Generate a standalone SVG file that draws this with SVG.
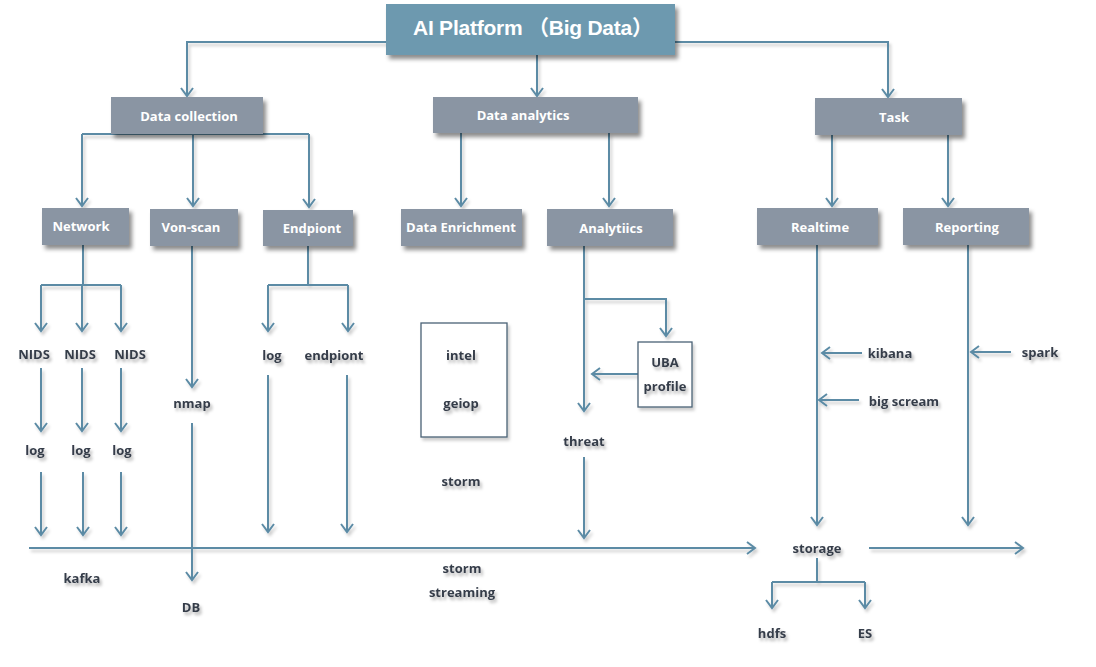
<svg xmlns="http://www.w3.org/2000/svg" width="1096" height="667" viewBox="0 0 1096 667">
<style>
.c{fill:none;stroke:#5B8BA5;stroke-width:2}
.a{marker-end:url(#ah)}
.bx{fill:#8A95A3}
.lb{font-family:"Open Sans","Noto Sans",sans-serif;font-weight:bold;font-size:13px;fill:#363D4A;text-anchor:middle}
.wl{font-family:"Open Sans","Noto Sans",sans-serif;font-weight:bold;font-size:13px;fill:#ffffff;text-anchor:middle}
.fr{fill:#ffffff;stroke:#4A6276;stroke-width:1.3}
</style>
<defs>
<marker id="ah" viewBox="-10 -8 12 16" refX="0" refY="0" markerWidth="12" markerHeight="16" markerUnits="userSpaceOnUse" orient="auto" overflow="visible">
<path d="M-8,-6 L0,0 L-8,6" fill="none" stroke="#5B8BA5" stroke-width="2"/>
</marker>
<filter id="bsh" filterUnits="userSpaceOnUse" x="0" y="0" width="1096" height="667">
<feDropShadow dx="3" dy="4" stdDeviation="2" flood-color="#000" flood-opacity="0.45"/>
</filter>
<filter id="lsh" filterUnits="userSpaceOnUse" x="0" y="0" width="1096" height="667">
<feDropShadow dx="2" dy="3" stdDeviation="1.5" flood-color="#000" flood-opacity="0.2"/>
</filter>
<filter id="tsh" filterUnits="userSpaceOnUse" x="0" y="0" width="1096" height="667">
<feDropShadow dx="2" dy="3" stdDeviation="1.5" flood-color="#000" flood-opacity="0.3"/>
</filter>
</defs>
<rect width="1096" height="667" fill="#ffffff"/>
<g id="connectors" filter="url(#lsh)">
<path class="c a" d="M386,42 H187 V96"/>
<path class="c a" d="M675,42 H888 V97"/>
<path class="c a" d="M537,55 V96"/>
<path class="c" d="M82,134 H309"/>
<path class="c a" d="M82,134 V206"/>
<path class="c a" d="M193,134 V206"/>
<path class="c a" d="M309,134 V207"/>
<path class="c a" d="M461,133 V206"/>
<path class="c a" d="M609,133 V206"/>
<path class="c a" d="M832,135 V206"/>
<path class="c a" d="M948,135 V206"/>
<path class="c" d="M83,245 V285 M41,285 H121"/>
<path class="c a" d="M41,285 V331"/>
<path class="c a" d="M82,285 V331"/>
<path class="c a" d="M121,285 V331"/>
<path class="c a" d="M41,368 V431"/>
<path class="c a" d="M82,368 V431"/>
<path class="c a" d="M121,368 V431"/>
<path class="c a" d="M41,472 V535"/>
<path class="c a" d="M83,472 V535"/>
<path class="c a" d="M121,472 V535"/>
<path class="c a" d="M29,548 H755"/>
<path class="c a" d="M192,246 V387"/>
<path class="c a" d="M192,423 V580"/>
<path class="c" d="M308,246 V285 M268,285 H348"/>
<path class="c a" d="M268,285 V331"/>
<path class="c a" d="M348,285 V331"/>
<path class="c a" d="M268,375 V532"/>
<path class="c a" d="M347,375 V532"/>
<path class="c a" d="M584,246 V411"/>
<path class="c a" d="M584,299 H666 V336"/>
<path class="c a" d="M638,374 H592"/>
<path class="c a" d="M584,457 V538"/>
<path class="c a" d="M817,245 V525"/>
<path class="c a" d="M862,353 H822"/>
<path class="c a" d="M859,400 H819"/>
<path class="c a" d="M968,245 V525"/>
<path class="c a" d="M1011,352 H971"/>
<path class="c a" d="M869,548 H1023"/>
<path class="c" d="M817,558 V582 M772,582 H865"/>
<path class="c a" d="M772,582 V608"/>
<path class="c a" d="M865,582 V608"/>
</g>
<g id="title">
<rect x="386" y="4" width="289" height="51" fill="#6D99AF" filter="url(#bsh)"/>
<text x="413" y="35" font-family="'Liberation Sans','Noto Sans CJK SC',sans-serif" font-weight="bold" font-size="21" fill="#ffffff" textLength="240" lengthAdjust="spacing">AI Platform （Big Data）</text>
</g>
<g id="data-collection"><rect class="bx" x="111" y="97" width="152" height="37" filter="url(#bsh)"/><text class="wl" x="189" y="121">Data collection</text></g>
<g id="data-analytics"><rect class="bx" x="433" y="97" width="205" height="36" filter="url(#bsh)"/><text class="wl" x="523" y="120">Data analytics</text></g>
<g id="task"><rect class="bx" x="815" y="98" width="147" height="37" filter="url(#bsh)"/><text class="wl" x="894" y="122">Task</text></g>
<g id="network"><rect class="bx" x="42" y="208" width="87" height="37" filter="url(#bsh)"/><text class="wl" x="81" y="231">Network</text></g>
<g id="von-scan"><rect class="bx" x="150" y="209" width="88" height="37" filter="url(#bsh)"/><text class="wl" x="191" y="232">Von-scan</text></g>
<g id="endpiont"><rect class="bx" x="263" y="210" width="90" height="36" filter="url(#bsh)"/><text class="wl" x="312" y="233">Endpiont</text></g>
<g id="data-enrichment"><rect class="bx" x="401" y="209" width="121" height="37" filter="url(#bsh)"/><text class="wl" x="461" y="232">Data Enrichment</text></g>
<g id="analytiics"><rect class="bx" x="547" y="209" width="126" height="37" filter="url(#bsh)"/><text class="wl" x="611" y="233">Analytiics</text></g>
<g id="realtime"><rect class="bx" x="757" y="208" width="121" height="37" filter="url(#bsh)"/><text class="wl" x="820" y="232">Realtime</text></g>
<g id="reporting"><rect class="bx" x="903" y="208" width="126" height="37" filter="url(#bsh)"/><text class="wl" x="967" y="232">Reporting</text></g>
<g id="intel-box"><rect class="fr" x="421" y="323" width="86" height="114" filter="url(#lsh)"/></g>
<g id="uba-box"><rect class="fr" x="638" y="342" width="54" height="65" filter="url(#lsh)"/></g>
<g id="labels" filter="url(#tsh)">
<g id="nids1"><text class="lb" x="34" y="359">NIDS</text></g>
<g id="nids2"><text class="lb" x="80" y="359">NIDS</text></g>
<g id="nids3"><text class="lb" x="130" y="359">NIDS</text></g>
<g id="log1"><text class="lb" x="35" y="455">log</text></g>
<g id="log2"><text class="lb" x="81" y="455">log</text></g>
<g id="log3"><text class="lb" x="122" y="455">log</text></g>
<g id="kafka"><text class="lb" x="82" y="583">kafka</text></g>
<g id="nmap"><text class="lb" x="192" y="408">nmap</text></g>
<g id="db"><text class="lb" x="191" y="612">DB</text></g>
<g id="log-ep"><text class="lb" x="272" y="360">log</text></g>
<g id="endpiont-l"><text class="lb" x="334" y="360">endpiont</text></g>
<g id="intel"><text class="lb" x="461" y="360">intel</text></g>
<g id="geiop"><text class="lb" x="461" y="408">geiop</text></g>
<g id="storm"><text class="lb" x="461" y="486">storm</text></g>
<g id="storm-streaming"><text class="lb" x="462" y="573">storm</text><text class="lb" x="462" y="597">streaming</text></g>
<g id="uba"><text class="lb" x="665" y="367">UBA</text><text class="lb" x="665" y="391">profile</text></g>
<g id="threat"><text class="lb" x="584" y="446">threat</text></g>
<g id="kibana"><text class="lb" x="890" y="358">kibana</text></g>
<g id="big-scream"><text class="lb" x="904" y="406">big scream</text></g>
<g id="spark"><text class="lb" x="1040" y="357">spark</text></g>
<g id="storage"><text class="lb" x="817" y="553">storage</text></g>
<g id="hdfs"><text class="lb" x="772" y="638">hdfs</text></g>
<g id="es"><text class="lb" x="865" y="638">ES</text></g>
</g>
</svg>
